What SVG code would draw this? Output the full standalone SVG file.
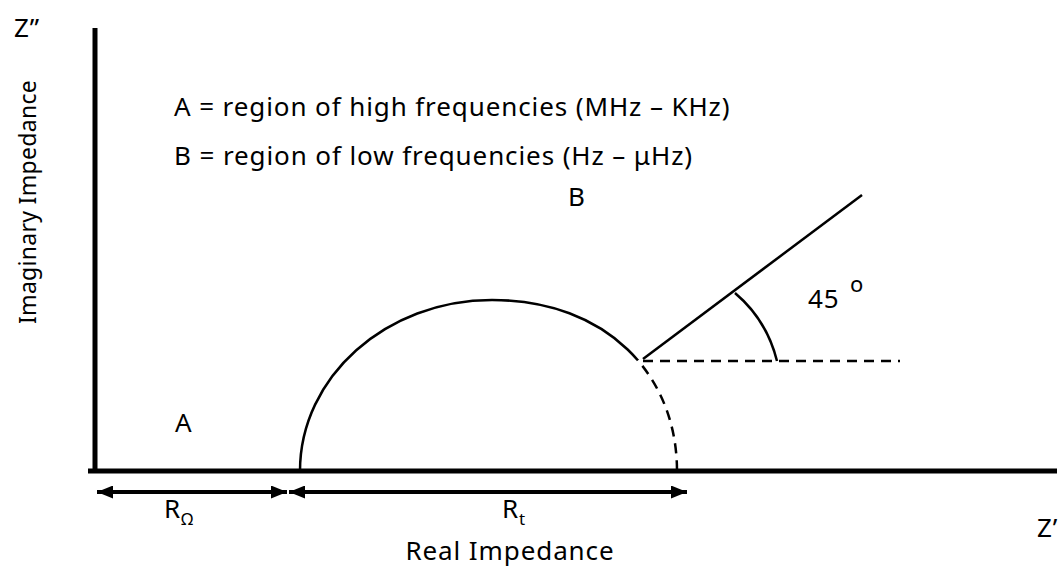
<svg xmlns="http://www.w3.org/2000/svg" width="1063" height="567" viewBox="0 0 1063 567">
<style>
text{font-family:"Noto Sans","Open Sans",sans-serif;fill:#000;font-size:26px;letter-spacing:0.9px}
.ax{stroke:#000;stroke-width:5;fill:none}
.ln{stroke:#000;stroke-width:2.5;fill:none}
.ds{stroke:#000;stroke-width:2.5;fill:none;stroke-dasharray:10 7}
.dim{stroke:#000;stroke-width:4;fill:none}
</style>
<defs>
<marker id="ah" viewBox="0 0 16 13" refX="16" refY="6.5" markerWidth="16" markerHeight="13" orient="auto-start-reverse" markerUnits="userSpaceOnUse">
<path d="M0,0 L16,6.5 L0,13 z" fill="#000"/>
</marker>
<clipPath id="top"><rect x="0" y="0" width="1063" height="360"/></clipPath>
<clipPath id="bot"><rect x="0" y="360" width="1063" height="112"/></clipPath>
</defs>
<rect width="1063" height="567" fill="#fff"/>
<g id="axes">
<line class="ax" x1="95" y1="28" x2="95" y2="471"/>
<line class="ax" x1="88" y1="471" x2="1057" y2="471"/>
</g>
<g id="curve">
<path class="ln" d="M300,471 C300,377 386,300 492,300"/>
<path class="ln" clip-path="url(#top)" d="M492,300 C607,300 677,375 677,471"/>
<path class="ds" clip-path="url(#bot)" d="M492,300 C607,300 677,375 677,471"/>
</g>
<g id="connectors">
<line class="ln" x1="643" y1="359" x2="862" y2="195"/>
<line class="ds" x1="643" y1="361" x2="900" y2="361"/>
<path class="ln" d="M735,293 A130,130 0 0 1 777,361"/>
<line class="dim" x1="97" y1="492" x2="287" y2="492" marker-start="url(#ah)" marker-end="url(#ah)"/>
<line class="dim" x1="289" y1="492" x2="687" y2="492" marker-start="url(#ah)" marker-end="url(#ah)"/>
</g>
<g id="labels">
<text x="14" y="37">Z”</text>
<text transform="translate(36,202) rotate(-90)" text-anchor="middle" style="font-size:23px;letter-spacing:0.3px">Imaginary Impedance</text>
<text x="174" y="116">A = region of high frequencies (MHz – KHz)</text>
<text x="174" y="165">B = region of low frequencies (Hz – μHz)</text>
<text x="568" y="206">B</text>
<text x="175" y="432">A</text>
<text x="808" y="308">45</text>
<text x="850" y="292" style="font-size:22px;letter-spacing:0">o</text>
<text x="164" y="518">R<tspan font-size="17" dy="7">Ω</tspan></text>
<text x="502" y="518">R<tspan font-size="17" dy="7">t</tspan></text>
<text x="510" y="560" text-anchor="middle">Real Impedance</text>
<text x="1037" y="537">Z’</text>
</g>
</svg>
